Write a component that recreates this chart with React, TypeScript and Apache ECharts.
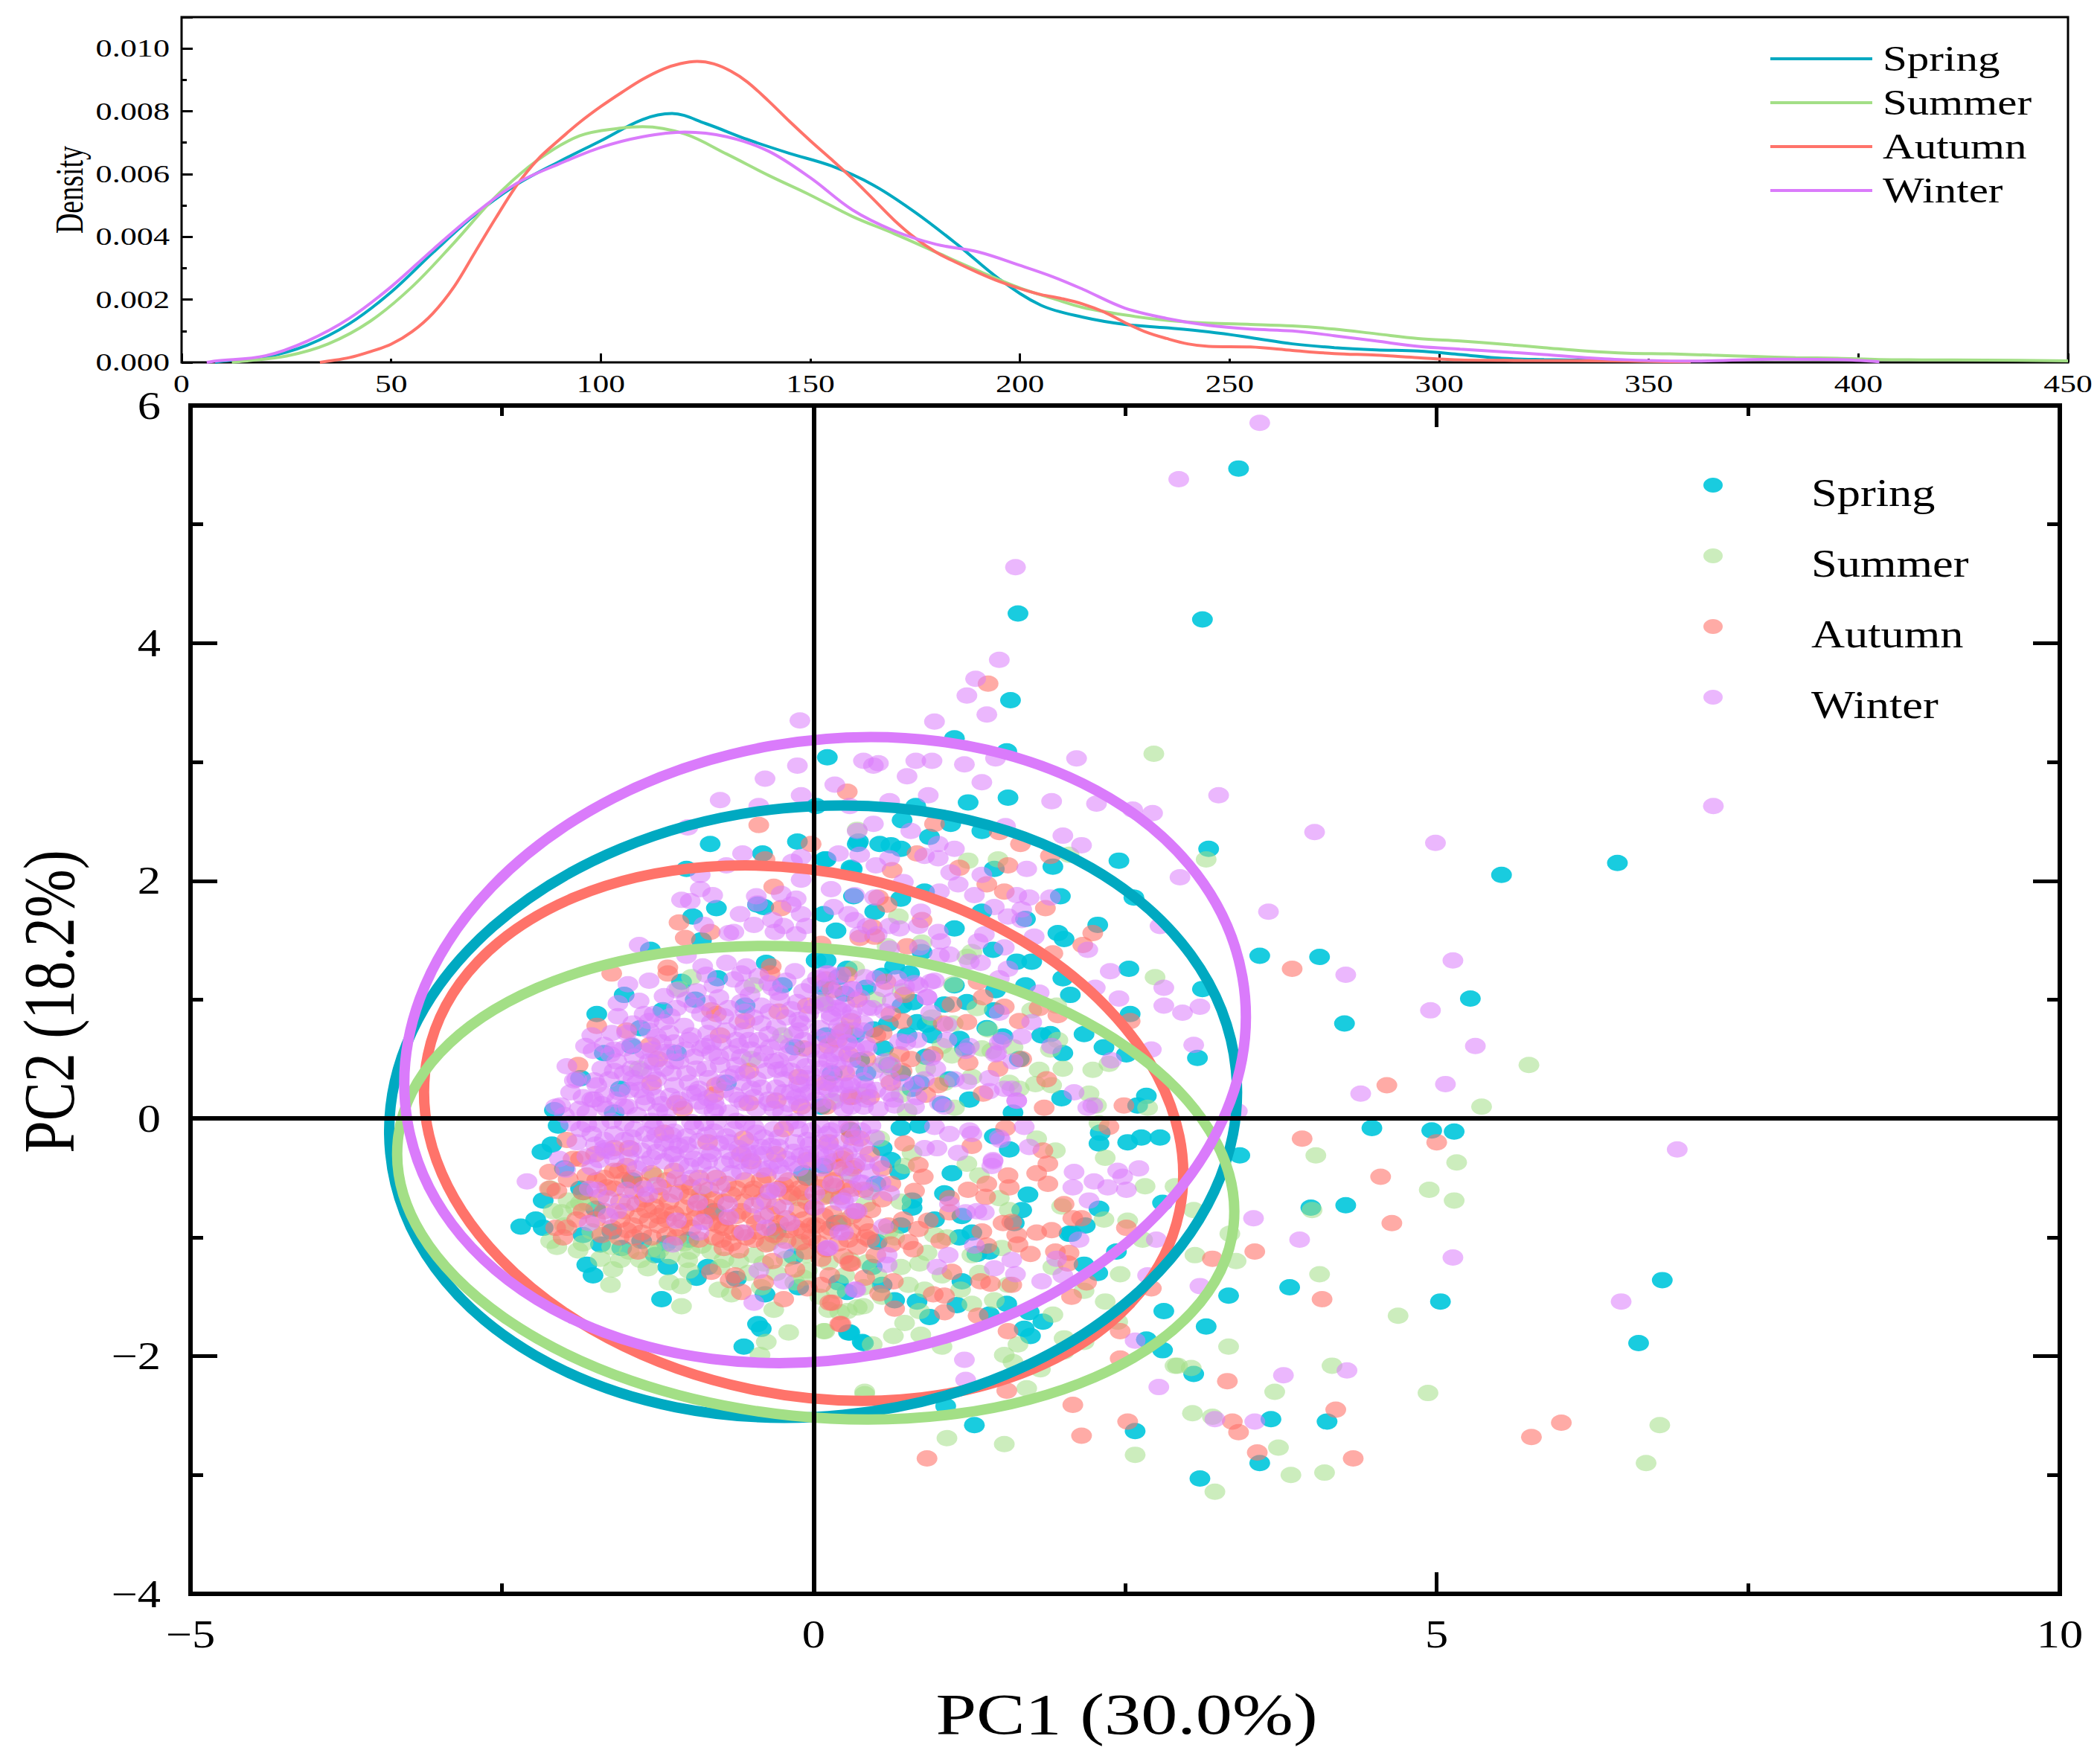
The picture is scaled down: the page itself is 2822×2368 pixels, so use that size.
import { useEffect, useRef } from "react";
import * as echarts from "echarts";

const FONT = "Liberation Serif";

const seasons = ["Spring", "Summer", "Autumn", "Winter"];
const lineColors = ["#00A9C1", "#A3DF86", "#FF736A", "#DA7BFB"];
const dotColors = ["#00C6DC", "#A3DF86", "#FF736A", "#DA7BFB"];
const dotOpacity = [0.9, 0.55, 0.6, 0.55];

const topXTicks = [0, 50, 100, 150, 200, 250, 300, 350, 400, 450];
const topYTicks = ["0.000", "0.002", "0.004", "0.006", "0.008", "0.010"];
const mainXTicks = [-5, 0, 5, 10];
const mainYTicks = [-4, -2, 0, 2, 4, 6];

// density curves, [raw value, density]
const densitySpring = [[8,0],[10,0.00004],[20,0.00017],[30,0.00055],[40,0.00123],[50,0.00224],[60,0.0035],[70,0.0047],[80,0.00567],[90,0.00639],[100,0.00706],[110,0.00774],[117,0.00793],[125,0.00761],[135,0.0071],[145,0.00666],[155,0.00626],[165,0.00565],[175,0.00478],[185,0.00376],[195,0.00266],[205,0.00182],[215,0.00144],[225,0.00121],[235,0.0011],[245,0.00097],[255,0.00079],[265,0.00059],[275,0.00047],[285,0.0004],[295,0.00036],[305,0.00025],[315,0.00013],[325,0.00009],[340,0.00006],[360,0.00001]];
const densitySummer = [[12,0],[15,0.00004],[25,0.0002],[35,0.00059],[45,0.00131],[55,0.00241],[65,0.00381],[75,0.00529],[85,0.00645],[95,0.00722],[105,0.00747],[110,0.00751],[120,0.00728],[130,0.00664],[140,0.00596],[150,0.00533],[160,0.00465],[170,0.0041],[180,0.00351],[190,0.00292],[200,0.00237],[208,0.00203],[215,0.00175],[225,0.00151],[235,0.00134],[245,0.00125],[255,0.00121],[265,0.00116],[275,0.00106],[285,0.00091],[295,0.00076],[305,0.00068],[315,0.00058],[325,0.00047],[335,0.00036],[345,0.00029],[355,0.00027],[365,0.00023],[375,0.00019],[385,0.00015],[395,0.00013],[405,0.00009],[415,0.00008],[430,0.00007],[450,0.00005]];
const densityAutumn = [[33,0],[35,0.00004],[40,0.00015],[45,0.00034],[50,0.00058],[55,0.00098],[60,0.00157],[65,0.00241],[70,0.00351],[75,0.00461],[80,0.00565],[85,0.00647],[90,0.00708],[95,0.00765],[100,0.00815],[105,0.0086],[110,0.00902],[115,0.00935],[119,0.00952],[123,0.00959],[127,0.00951],[131,0.00928],[135,0.00893],[140,0.00833],[145,0.00768],[150,0.00706],[155,0.00647],[160,0.00586],[165,0.0052],[170,0.00453],[175,0.00396],[180,0.00351],[185,0.00317],[190,0.00286],[195,0.00258],[200,0.00235],[205,0.00216],[210,0.00203],[215,0.00186],[220,0.00161],[225,0.00127],[230,0.00097],[235,0.00076],[240,0.00059],[245,0.00051],[255,0.00049],[265,0.00038],[275,0.00028],[285,0.00023],[295,0.00015],[305,0.00008],[320,0.00006],[345,0.00004],[360,0.00001]];
const densityWinter = [[6,0],[8,0.00004],[20,0.00021],[30,0.00068],[40,0.0014],[50,0.00241],[60,0.0036],[70,0.00474],[80,0.00571],[90,0.00632],[100,0.00685],[110,0.00719],[120,0.00734],[130,0.00719],[140,0.00673],[150,0.00588],[160,0.00486],[170,0.00419],[180,0.00376],[190,0.00352],[200,0.00309],[208,0.00272],[215,0.00233],[225,0.00173],[235,0.0014],[245,0.00118],[255,0.00106],[265,0.001],[275,0.00085],[285,0.00068],[295,0.00051],[305,0.00042],[315,0.00034],[325,0.00025],[335,0.00015],[345,0.00008],[360,0.00004],[380,0.0001],[395,0.00009],[405,0.00002]];

// confidence ellipses: centre x, centre y, half width, half height, tilt in degrees
const ellipseSpring = [-0.004, 0.058, 3.41, 2.565, -5.6];
const ellipseSummer = [0.017, -0.54, 3.37, 1.97, 5.8];
const ellipseAutumn = [-0.08, -0.123, 3.08, 2.2, 11.8];
const ellipseWinter = [0.092, 0.576, 3.4, 2.6, -9.9];

const pointsSpring = [
[1.64,4.25],[3.41,5.47],[3.12,4.20],[3.17,2.27],[5.52,2.05],[6.45,2.15],[3.58,1.37],[4.06,1.36],[5.27,1.01],[4.26,.80],[3.12,1.09],[3.08,.51],[4.48,-.08],[4.96,-.10],[5.14,-.11],[3.42,-.31],[3.99,-.75],[4.27,-.73],[3.33,-1.49],[3.82,-1.42],[5.03,-1.54],[6.81,-1.36],[6.62,-1.89],[3.15,-1.75],[3.05,-2.15],[3.67,-2.53],[4.12,-2.55],[3.58,-2.90],[3.10,-3.03],
[.11,3.04],[-.83,2.31],[-.13,2.33],[-.41,2.23],[.09,2.18],[-.78,1.77],[-.97,1.70],[-.45,1.80],[-.40,1.78],[-1.31,1.42],[-1.06,1.15],[-1.52,1.04],[-1.74,.88],[-1.39,.76],[-1.68,.55],[-1.46,.61],[-1.87,.34],[-1.02,2.10],[.02,2.63],[-.90,1.50],[-1.21,.91],[-.77,1.18],[-.38,1.31],[.02,1.33],[.08,1.72],[.31,2.10],[.35,2.31],[-1.55,.25],[-2.08,.07],
[1.58,3.52],[1.13,3.20],[1.55,3.09],[1.24,2.66],[1.56,2.70],[.82,2.63],[.71,2.51],[.36,2.33],[.53,2.31],[.62,2.30],[.70,2.27],[.93,2.37],[1.35,2.42],[1.10,2.48],[1.92,2.12],[2.45,2.17],[1.45,2.10],[.10,2.18],[.30,2.11],[2.57,1.86],[.70,1.85],[.32,1.87],[.89,1.91],[1.35,1.74],[1.98,1.87],[2.28,1.63],[1.96,1.56],[2.01,1.51],[1.13,1.60],[1.44,1.42],[1.70,1.68],[.49,1.74],[.18,1.58],[1.63,1.32],[1.75,1.32],[2.53,1.26],[2.00,1.18],[2.06,1.04],[.77,1.22],[.87,1.40],[2.54,.88],[2.17,.71],[2.33,.60],[2.51,.54],[1.90,.71],[1.83,.70],[2.00,.55],[1.13,1.12],[1.70,1.12],[1.46,1.08],[1.23,.98],[1.45,.91],[1.05,.96],[.71,.95],[.83,.81],[.91,.79],[1.39,.76],[1.52,.69],[1.17,.67],[1.21,.59],[.56,.59],[.37,.49],[1.65,.50],[.20,1.19],[.10,1.33],[.27,1.26],[.79,.25],[.90,.52],[1.09,.33],[1.25,.16],[1.99,.17],[2.67,.19],[1.60,.05],[2.60,.11],[1.03,.12],
[-2.05,-.06],[-2.10,-.22],[-2.18,-.28],[-2.17,-.69],[-2.23,-.85],[-2.35,-.91],[-2.17,-.92],[-1.85,-.98],[-1.71,-1.06],[-1.54,-1.09],[-1.82,-1.23],[-1.77,-1.32],[-1.27,-1.15],[-1.17,-1.25],[-.85,-1.25],[-.94,-1.34],[-1.22,-1.52],[-.45,-1.73],[-.42,-1.77],[-.56,-1.92],[-.39,-1.48],[-.16,-1.16],[-1.75,-.76],[-1.87,-.59],[-1.18,-1.05],[.29,-1.80],[.40,-1.89],[-.08,-.46],[.08,-.40],[-1.46,-.52],[.27,-1.46],[.18,-.88],
[2.29,-.76],[1.67,-.77],[1.72,-.64],[2.18,-.90],[2.07,-.97],[2.29,-.21],[2.52,-.20],[2.63,-.16],[2.78,-.16],[2.30,-.12],[1.57,-.26],[1.45,-.15],[.69,-.45],[.79,-.69],[.79,-.75],[1.19,-1.37],[.83,-1.54],[.65,-1.53],[2.17,-1.23],[2.28,-1.30],[2.43,-1.12],[2.80,-.71],[1.55,-1.56],[1.73,-1.63],[1.84,-1.71],[1.69,-1.77],[1.74,-1.83],[.28,-1.80],[.39,-1.88],[2.81,-1.62],[2.67,-1.86],[2.80,-1.95],[1.06,-2.42],[1.29,-2.58],[2.58,-2.63],[1.41,-1.65],[.93,-1.67],[1.15,-1.57],[.51,-1.04],[1.41,-1.12],[1.31,-1.14],[.47,-1.25],[1.11,-.46],[1.05,-.63],[1.17,-1.0],[.19,-.88],[.55,-.25],[.85,-.06],[2.05,-.97],[.97,-.85],[1.61,-.88],[1.27,-.96],[1.19,-.82],
[.08,1.1],[.25,1.05],[.42,1.1],[.55,1.2],[.65,1.28],[.8,.98],[.1,.7],[.33,.7],[.48,.75],[.6,.8],[.75,.7],[.95,.7],[.15,.38],[.42,.38],[.6,.45],[.7,.38],[.85,.3],[.06,.1],[.3,-.1],[.7,-.08],[.62,-.35],[.5,-.55],[.7,-.9],[.55,-1.4],[.2,-1.38],[-.12,-1.42],[-.62,-1.35],[-1.0,-1.02],[-1.38,-1.03],[-1.62,-.95],[-1.85,-.62],[-2.0,-.42],[-1.6,.05],[-.95,1.0],[-.55,.95],[-1.1,.55],[-.7,.3],[-.25,1.12],[-.15,.6],[-.05,-.5],[-.3,-.95],[-.8,-.78],
];

const pointsSummer = [
[3.15,2.18],[5.74,.45],[5.36,.10],[4.03,-.31],[5.16,-.37],[4.94,-.60],[5.14,-.69],[4.00,-.77],[3.05,-.77],[3.34,-.97],[3.06,-1.15],[3.39,-1.20],[4.06,-1.31],[4.69,-1.66],[3.33,-1.92],[2.92,-2.08],[3.03,-2.10],[4.16,-2.08],[3.70,-2.30],[4.93,-2.31],[3.04,-2.48],[3.20,-2.51],[6.79,-2.58],[3.73,-2.77],[3.83,-3.0],[4.10,-2.98],[6.68,-2.90],[3.22,-3.14],
[-1.08,1.09],[-.98,1.19],[-.48,1.12],[-1.40,.42],[-.50,.50],[.08,.98],[.35,2.43],
[2.73,3.07],[1.48,2.18],[1.24,2.17],[.68,1.70],[2.74,1.19],[1.12,1.13],[1.31,.93],[1.75,.91],[1.95,.95],[2.00,.42],[1.81,.41],[2.24,.41],[2.37,.46],[1.78,.29],[1.91,.28],[1.96,.66],[1.90,.58],[1.35,.59],[1.11,.53],[1.03,.61],[1.43,.57],[1.27,.35],[1.65,.25],[2.21,.21],[2.68,.09],[1.27,1.40],[1.23,1.36],[.71,1.07],[.33,1.26],[.59,1.45],[.87,1.48],[2.05,2.22],[2.27,.11],[1.57,.30],[.75,.06],[1.13,.09],[.08,.97],[.61,.49],[.63,.42],
[-2.11,-1.03],[-2.06,-1.08],[-1.89,-1.11],[-1.71,-1.18],[-1.61,-1.27],[-1.63,-1.40],[-1.55,-1.19],[-1.39,-1.19],[-1.33,-1.26],[-1.16,-1.38],[-1.06,-1.41],[-1.01,-1.19],[-1.06,-1.58],[-.76,-1.44],[-.66,-1.48],[-.32,-1.61],[-.20,-1.80],[.08,-1.79],[-.38,-1.88],[-.43,-1.99],[-2.11,-.59],[-1.97,-.69],[-2.09,-.78],[-2.02,-.79],[-1.91,-.75],[-1.87,-.71],[-1.81,-.71],[-1.04,-1.05],[-.99,-1.12],[-.90,-1.07],[-1.24,-1.11],[-.48,-1.15],[-.36,-1.05],[-.28,-1.0],[-.72,-1.19],[-.42,-1.42],[-.12,-1.05],[-.06,-1.15],[.21,-1.63],[.35,-1.59],[.12,-1.61],[.41,-2.30],[-.08,-1.34],[-1.28,-.48],[-.90,-.63],[.12,-.65],[-.12,-.67],
[2.34,-.33],[1.94,-.27],[2.66,-.57],[2.33,-.85],[2.52,-.86],[1.99,-.74],[1.92,-1.25],[2.64,-1.02],[2.46,-1.31],[2.34,-1.54],[2.17,-1.45],[2.44,-1.71],[1.92,-1.65],[2.01,-1.85],[2.17,-1.88],[1.64,-1.90],[1.53,-1.99],[1.60,-2.05],[2.01,-1.96],[1.82,-2.11],[1.71,-2.27],[2.90,-2.08],[1.07,-2.69],[1.53,-2.74],[2.58,-2.83],[.41,-2.32],[.09,-1.79],[.27,-1.62],[.40,-1.58],[.64,-1.83],[.86,-1.82],[.73,-1.72],[.47,-1.90],[1.03,-1.92],[1.33,-1.30],[1.56,-1.40],[1.51,-1.09],[1.45,-1.53],[1.27,-1.56],[1.18,-1.44],[.85,-1.62],[.89,-1.44],[.76,-1.40],[1.33,-.48],[1.49,-.67],[1.03,-1.32],[.65,-1.0],[.97,-.98],[1.27,-1.15],[1.57,-.77],[2.29,-.04],[1.79,-.17],[1.23,-.38],[.73,-.40],[.53,-.17],[.79,-.29],[.51,-1.32],[.29,-1.19],[.12,-1.21],[.43,-1.21],[2.90,-.57],[.14,-.65],[.24,-.86],[1.07,-1.0],[.91,-1.13],
[-2.0,-.9],[-1.85,-1.05],[-1.78,-.95],[-1.62,-1.08],[-1.48,-1.12],[-1.3,-1.1],[-1.15,-1.16],[-1.1,-1.05],[-1.0,-1.28],[-.82,-1.12],[-.75,-1.25],[-.6,-1.2],[-.52,-1.3],[-.4,-1.22],[-.3,-1.3],[-.22,-1.18],[-.15,-1.38],[-.05,-1.28],[.05,-1.5],[.18,-1.45],[.25,-1.32],[.4,-1.42],[.55,-1.5],[.7,-1.25],[.6,-.95],[.42,-.72],[.28,-.46],[.45,-.6],[.7,-.7],[.85,-1.22],
[.15,.15],[.38,.2],[.55,.45],[.9,.42],[1.05,.3],[.7,.2],[.25,.75],[-.25,.7],[.5,1.0],[.95,.85],[1.12,.8],[1.4,.75],[1.6,.6],
];

const pointsAutumn = [
[3.84,1.26],[4.60,.28],[3.92,-.17],[5.0,-.20],[4.55,-.49],[4.64,-.88],[3.54,-1.12],[3.20,-1.18],[4.08,-1.52],[3.32,-2.21],[4.19,-2.45],[3.36,-2.55],[3.41,-2.64],[6.0,-2.56],[5.76,-2.68],[3.56,-2.81],[4.33,-2.86],
[-.44,2.47],[-.02,2.31],[.27,2.75],[-.39,2.18],[-.32,1.95],[-.26,1.77],[-1.08,1.65],[-.83,1.57],[-1.03,1.52],[-1.62,1.22],[-1.17,1.27],[-1.17,1.22],[-1.74,.78],[-1.50,.74],[-1.31,.62],[-1.89,.45],[-.82,.91],[-.34,1.28],[-1.10,.13],[-.08,.59],[.23,.73],[-.52,.13],[-.78,.28],[-.12,.35],[.31,.18],
[1.40,3.66],[.97,2.48],[1.49,2.41],[1.66,2.31],[1.90,2.21],[.63,2.09],[.83,2.23],[1.17,2.11],[1.56,2.13],[1.39,1.97],[1.53,1.91],[.52,1.86],[.59,1.80],[1.86,1.77],[.87,1.67],[2.24,1.56],[2.16,1.46],[1.92,1.39],[.47,1.61],[.37,1.52],[.75,1.45],[.58,1.15],[1.36,1.02],[1.11,.96],[1.53,.94],[1.65,.82],[2.54,.82],[1.32,1.15],[.71,.82],[1.04,.80],[1.23,.81],[1.81,.93],[1.96,.87],[1.67,.50],[1.24,.47],[1.48,.42],[1.87,.33],[.96,.54],[.69,.54],[.71,.40],[.55,.72],[.19,.66],[.12,.61],[1.0,.28],[1.36,.21],[2.49,.11],[1.85,.09],[.28,.54],[.10,.30],[.29,.18],[.45,.18],[.49,1.53],[.06,1.47],[.10,1.17],[.27,1.21],[.73,1.04],
[-1.98,-.18],[-2.12,-.45],[-2.12,-.59],[-2.06,-.61],[-2.07,-.92],[-1.98,-.92],[-2.01,-1.0],[-1.85,-.78],[-1.41,-1.12],[-.82,-1.29],[-.63,-1.32],[-.67,-1.36],[-.58,-1.46],[-.40,-1.38],[-.24,-1.52],[-.33,-1.20],[-.15,-1.27],[-.05,-1.43],[.22,-1.73],[.13,-1.55],[.06,-1.40],[.13,-1.32],[.29,-1.22],[-.72,-1.09],[-.60,-1.11],[-.48,-1.02],
[-1.97,-.51],[-1.93,-.34],[-1.56,-.44],[-1.50,-.40],[-1.68,-.50],[-1.74,-.52],[-1.60,-.59],[-1.44,-.61],[-1.34,-.77],[-1.24,-.82],[-1.12,-.80],[-1.40,-.82],[-1.62,-.92],[-1.50,-.94],[-1.38,-.96],[-1.24,-.90],[-1.18,-.52],[-1.04,-.54],[-.92,-.50],[-.78,-.50],[-.62,-.59],[-.48,-.59],[-.28,-.59],[-.12,-.59],[-.92,-.69],[-.78,-.79],[-1.04,-.75],[-1.24,-.65],[-.72,-.92],[-.64,-.96],[-.54,-1.0],[-.62,-.82],[-.28,-.88],[-.14,-.92],[-.02,-.90],[-.02,-1.0],[.04,-1.05],[.02,-.90],[.16,-.36],[.23,-.34],[.29,-.09],[.19,-.42],[.31,-.42],[.08,-.52],[.17,-.57],[-.50,-.36],[-.56,-.17],[-.24,-.09],[-1.60,-.25],[-1.48,-.25],[-1.87,-.34],[-.38,-.48],[-.18,-.63],[.0,-.75],[.15,-.80],[.31,-.82],[-.12,-.77],
[2.01,-.72],[2.08,-.84],[2.15,-.84],[2.51,-.92],[1.91,-.94],[1.79,-.96],[1.94,-1.12],[2.05,-1.13],[2.04,-1.22],[1.74,-1.14],[1.64,-1.06],[1.63,-.98],[1.52,-.88],[1.59,-.87],[1.56,-.48],[1.79,-.46],[1.88,-.55],[1.57,-.58],[1.24,-.60],[1.39,-.55],[1.38,-.66],[1.09,-.67],[1.09,-.79],[1.27,-.23],[1.84,-.27],[1.88,-.38],[1.54,-.08],[.84,-.39],[.88,-.49],[.81,-.61],[1.35,-.95],[1.39,-1.07],[1.34,-1.37],[1.42,-1.39],[1.59,-1.40],[1.11,-1.29],[.84,-.93],[.76,-1.04],[1.02,-1.03],[.72,-.85],[.92,-.86],[.64,-1.37],[.41,-1.34],[.30,-1.22],[.53,-1.47],[.65,-1.60],[.96,-1.48],[1.05,-1.49],[1.05,-1.63],[1.32,-1.66],[2.07,-1.50],[2.71,-1.43],[2.46,-1.79],[1.56,-1.79],[2.46,-2.02],[1.55,-2.29],[2.08,-2.41],[2.52,-2.55],[2.15,-2.67],[.91,-2.86],[.21,-1.73],[.15,-1.55],[2.19,-1.38],[.34,-.78],[.46,-.77],[.33,-.40],[.24,-.31],[.16,-.52],[.31,-.59],[.73,-.21],[.45,-1.02],[.28,-1.02],[.14,-.92],[.37,-.17],[2.37,-.07],
[-1.75,-.3],[-1.6,-.44],[-1.45,-.5],[-1.3,-.46],[-1.12,-.44],[-.98,-.58],[-.84,-.6],[-.7,-.55],[-.55,-.52],[-.42,-.52],[-.2,-.52],[-.05,-.5],
[-1.85,-.62],[-1.72,-.66],[-1.55,-.7],[-1.42,-.72],[-1.28,-.74],[-1.16,-.7],[-1.0,-.66],[-.86,-.74],[-.72,-.7],[-.56,-.7],[-.42,-.7],[-.3,-.74],[-.2,-.66],[-.05,-.7],[.08,-.66],[.22,-.66],
[-1.9,-.85],[-1.75,-.85],[-1.55,-.85],[-1.45,-.9],[-1.32,-.86],[-1.18,-.85],[-1.05,-.86],[-.95,-.84],[-.82,-.88],[-.7,-.84],[-.5,-.82],[-.35,-.8],[-.22,-.84],[-.08,-.85],[.08,-.82],[.22,-.88],[.4,-.88],
[-1.7,-.98],[-1.3,-1.0],[-1.18,-.98],[-.8,-1.0],[-.66,-1.05],[-.45,-.95],[-.32,-.98],[-.1,-1.04],[.1,-1.1],[.2,-1.05],[.35,-1.08],[.5,-1.15],
[-1.2,-.12],[-.85,-.2],[-.58,-.3],[-.3,-.3],[-.05,-.35],[.12,-.2],[.3,-.16],[.45,-.3],[.55,-.42],[.62,-.55],[.55,-.68],[.6,-.9],
[-1.3,.3],[-1.05,.08],[-.8,.2],[-.52,.4],[-.3,.15],[-.1,.1],[.1,.1],[.25,.38],[.42,.5],[.5,.7],[.3,.82],[.62,.3],[.78,.5],[.9,.2],
[-.75,.7],[-.55,.82],[-.28,.9],[-.05,.95],[.35,1.0],[.62,.88],[.15,1.08],[-.35,1.22],[-.78,.88],[-1.25,.5],
[-1.82,-.48],[-1.66,-.58],[-1.52,-.52],[-1.38,-.56],[-1.22,-.58],[-1.08,-.62],[-.94,-.76],[-.8,-.68],[-.66,-.64],[-.5,-.62],[-.36,-.62],[-.24,-.56],[-.08,-.62],[.05,-.58],[.26,-.58],[.4,-.6],
[-1.68,-.78],[-1.52,-.78],[-1.36,-.68],[-1.2,-.78],[-1.08,-.92],[-.98,-.92],[-.86,-.82],[-.76,-.9],[-.58,-.78],[-.46,-.88],[-.34,-.92],[-.2,-.94],[-.08,-.95],[.12,-.95],[.3,-.95],[.44,-.95],
[-1.56,-1.0],[-1.44,-1.0],[-1.1,-1.0],[-.92,-1.02],[-.74,-1.02],[-.58,-.96],[-.38,-1.06],[-.22,-1.03],[-.06,-1.12],[.06,-1.18],[.24,-1.16],[.42,-1.0],[.62,-1.06],[.8,-1.1],
];

const pointsWinter = [
[3.58,5.855],[2.93,5.38],[1.62,4.64],[1.49,3.86],[3.25,2.72],[4.02,2.41],[4.99,2.32],[7.22,2.63],[2.94,2.03],[3.65,1.74],[5.13,1.33],[4.95,.91],[5.31,.61],[4.27,1.21],[5.07,.29],[4.39,.21],[2.96,.89],[3.10,.94],[3.05,.62],[3.40,.06],[6.93,-.26],[3.53,-.84],[3.90,-1.02],[5.13,-1.17],[6.48,-1.54],[3.10,-1.41],[3.77,-2.16],[4.28,-2.12],[3.22,-2.53],[3.54,-2.55],
[-.11,3.35],[-.13,2.97],[-.39,2.86],[-.75,2.68],[-.10,2.72],[-.44,2.63],[-1.01,2.45],[-.57,2.23],[-.10,2.20],[-.17,2.16],[-.70,2.13],[-.91,2.05],[-.91,1.93],[-.81,1.88],[-.99,1.83],[-1.06,1.84],[-.10,2.01],[-.46,1.87],[-.45,1.81],[-.26,1.89],[-.59,1.72],[-.88,1.63],[-.48,1.63],[-.64,1.57],[-.68,1.56],[-1.40,1.46],[-1.02,1.37],[-.54,1.28],[-.89,1.28],[-1.49,1.13],[-1.32,1.16],[-1.57,.97],[-1.40,.99],[-1.57,.86],[-1.36,.88],[-1.78,.70],[-1.77,.57],[-1.98,.44],[-1.90,.33],[-.14,1.85],[-.18,1.80],[-.33,1.67],[-.24,1.62],[-.06,1.62],[-.14,1.55],[-.31,1.57],[-.10,1.72],
[-.70,1.31],[-.64,1.17],[-.36,1.14],[-.22,1.16],[.10,1.22],[.31,1.09],[-.94,1.07],[-.76,1.02],[-.51,1.04],[-.33,1.10],[-.08,1.07],[-.68,.93],[-.96,.95],[-1.10,.93],[-1.28,.88],[-.48,.85],[-.60,.81],[-.82,.81],[-1.04,.78],[-1.20,.81],[-.22,.85],[-.04,.88],[.14,.88],[.31,.90],[-.16,.71],[-.36,.71],[-.52,.66],[-.74,.64],[-.90,.59],[-1.12,.64],[-1.26,.69],[-1.52,.59],[-1.36,.57],[-.08,.66],[.27,.64],[.12,.66],[-1.12,.48],[-1.28,.47],[-1.46,.42],[-.94,.42],[-.62,.45],[-.44,.49],[-.28,.49],[-.12,.49],[.12,.49],[.35,.42],[-1.26,.33],[-1.42,.30],[-1.64,.33],[-1.74,.28],[-.92,.25],[-.68,.35],[-.46,.33],[-.24,.33],[-.10,.28],[.14,.35],[.30,.30],[-1.85,.18],[-2.03,.11],[-1.78,.16],[-1.58,.16],[-1.36,.18],[-1.26,.18],[-.98,.21],[-.78,.09],[-.56,.13],[-.36,.13],[-.14,.18],[.20,.21],
[-2.07,.10],[-1.92,.32],[-1.76,.32],[-1.56,.22],[-1.35,.13],[-1.15,.19],[-.94,.22],[-.63,.38],[-.29,.41],[-.12,.29],[-1.32,.48],[-1.08,.48],[-.87,.61],[-.60,.61],[-.32,.48],[-.19,.61],[-.12,.83],[-1.63,.54],[-1.83,.61],[-1.76,.16],[-1.49,.10],[-1.18,.06],[-.80,.06],[-.60,.16],[-.36,.16],[-.12,.13],[.16,.29],[.40,.32],[.16,.54],[.33,.58],[.57,.48],[.81,.29],[.64,.16],[.40,.10],[.81,.10],[.22,.74],[.40,.74],[.19,.93],[.43,.93],[.67,1.18],[.50,1.18],[.22,1.21],[.84,1.12],[.94,1.15],[.91,1.02],[.74,.64],[.94,.51],[1.05,.10],[1.22,.57],[1.49,.64],[1.46,.54],[1.60,.48],[1.41,.23],[1.53,.25],[1.63,.15],[1.25,-.10],[1.49,-.16],[1.44,-.35],
[1.30,3.70],[1.23,3.56],[1.39,3.40],[.97,3.34],[.40,3.01],[.52,2.99],[.48,2.97],[.82,3.01],[.95,3.01],[1.21,2.98],[1.46,3.03],[2.11,3.03],[.75,2.88],[1.35,2.83],[.17,2.81],[.92,2.72],[.61,2.67],[1.91,2.67],[2.27,2.65],[2.72,2.57],[2.56,2.60],[.29,2.63],[.48,2.48],[.78,2.42],[1.54,2.46],[2.00,2.38],[2.15,2.30],[.35,2.42],[1.0,2.31],[1.13,2.27],[.20,2.23],[.37,2.22],[.50,2.13],[.61,2.19],[1.0,2.19],[.89,2.21],[1.10,2.07],[1.71,2.10],[1.35,2.05],[.72,1.99],[1.16,1.97],[1.01,1.91],[1.29,1.88],[.14,1.93],[.33,1.88],[.49,1.86],[1.63,1.88],[1.73,1.86],[1.90,1.86],[1.45,1.78],[1.67,1.76],[1.56,1.70],[1.67,1.67],[.16,1.78],[.28,1.72],[.86,1.74],[.84,1.62],[2.78,1.62],[1.37,1.55],[1.77,1.53],[1.32,1.49],[1.53,1.44],[2.20,1.42],[1.0,1.57],[1.02,1.49],[1.09,1.38],[1.01,1.37],[1.25,1.32],[1.34,1.31],[1.56,1.26],[2.38,1.24],[2.26,1.10],[2.81,1.10],[2.45,1.01],[2.81,.95],[1.49,1.18],[1.81,1.06],[.33,1.67],[.43,1.62],[.61,1.62],[.69,1.60],[.85,1.44],[.37,1.55],[.51,1.55],[.61,1.43],[.12,1.22],[.41,1.19],[.97,1.16],[.81,1.14],[.73,1.11],[.31,1.09],[.56,1.09],[.91,1.02],[1.49,.89],[1.75,.81],[1.07,.79],[.63,.99],[.37,1.02],[.47,.93],[.22,.91],[.14,.85],[.30,.85],[.57,.90],[.94,.89],[1.67,.69],[1.51,.66],[1.91,.61],[2.71,.58],[2.39,.49],[1.25,.61],[.83,.66],[.69,.65],[1.07,.66],[.27,.64],[.43,.59],[1.47,.55],[.98,.42],[1.13,.33],[1.23,.31],[1.41,.34],[1.59,.25],[.89,.33],[.61,.34],[.13,.40],[.29,.28],[.43,.23],[.61,.21],[2.09,.22],[1.63,.15],[2.24,.11],[2.20,.09],[.83,.18],[.65,.11],[1.01,.13],
[-2.30,-.53],[-.48,-1.55],[-2.04,-.34],[-1.99,-.43],[-1.80,-.59],[-1.82,-.32],[-1.78,-.41],[-1.60,-.34],[-1.67,-.27],[-1.65,-.67],[-1.65,-.82],[-1.80,-.88],[-1.58,-.78],[-1.48,-.71],[-1.36,-.59],[-1.33,-.64],[-1.13,-.64],[-1.10,-.86],[-.89,-.57],[-.93,-.71],[-.89,-.87],[-.92,-.96],[-.69,-.72],[-.68,-.83],[-.75,-.57],[-.58,-.45],[-.42,-.43],[-.56,-.96],[-.48,-.73],[-.35,-.61],[-.38,-.69],[-.40,-.82],[-.38,-.92],[-.19,-.88],[-.24,-.75],[-.24,-1.11],[-.44,-1.28],[-.24,-1.37],[-1.13,-1.06],[.01,-.63],[.01,-.75],[.11,-1.09],[.21,-.96],[.21,-.71],[.33,-.78],[.34,-1.44],[.37,-.54],
[-1.87,-.09],[-1.78,-.13],[-1.60,-.13],[-1.44,-.09],[-1.28,-.07],[-1.12,-.11],[-.96,-.07],[-.80,-.11],[-.64,-.09],[-.48,-.07],[-.32,-.09],[-.12,-.09],[.11,-.13],[-1.68,-.25],[-1.38,-.27],[-1.36,-.38],[-1.20,-.21],[-1.08,-.23],[-1.20,-.36],[-1.08,-.38],[-.92,-.19],[-.76,-.21],[-.90,-.39],[-.72,-.38],[-.60,-.25],[-.46,-.29],[-.34,-.23],[-.22,-.34],[-.28,-.40],[-.10,-.31],[.04,-.29],[.12,-.23],[.27,-.29],[-.36,-.42],
[2.09,-.45],[2.44,-.44],[2.61,-.42],[2.08,-.58],[2.25,-.53],[2.36,-.58],[2.48,-.49],[2.51,-.60],[2.21,-.69],[1.44,-.36],[1.43,-.40],[.99,-.25],[.89,-.25],[1.16,-.29],[.49,-.16],[1.09,-.13],[1.27,-.13],[1.50,-.18],[1.73,-.24],[.97,-.07],[1.69,-.07],[2.13,-1.02],[1.95,-1.18],[2.00,-1.32],[1.83,-1.37],[1.59,-1.19],[1.62,-1.31],[1.45,-1.26],[1.31,-.78],[1.37,-.79],[1.22,-.79],[1.29,-1.07],[1.09,-.72],[1.08,-1.15],[.99,-1.25],[.59,-1.15],[.59,-1.23],[.56,-.91],[.61,-.63],[.54,-.54],[.39,-.54],[.35,-.78],[.24,-.69],[.41,-.37],[.53,-.38],[.24,-.96],[.12,-1.09],[.33,-1.44],[1.21,-2.03],[1.22,-2.20],[2.77,-2.26],[2.58,-1.87],[2.75,-1.02],[2.68,-1.32],
[-.86,1.21],[-.58,1.22],[-.44,1.2],[-.15,1.24],[.03,1.18],[.2,1.1],
[-1.2,1.03],[-1.02,1.0],[-.86,.97],[-.58,.98],[-.42,.95],[-.27,1.0],[-.13,.98],[.05,1.0],[.18,1.02],
[-1.45,.8],[-1.32,.74],[-1.16,.72],[-.98,.7],[-.85,.72],[-.7,.74],[-.56,.74],[-.42,.8],[-.3,.77],[-.1,.8],[.05,.76],[.2,.78],[.4,.8],
[-1.68,.62],[-1.58,.48],[-1.44,.52],[-1.2,.56],[-1.03,.58],[-.82,.55],[-.66,.55],[-.5,.58],[-.35,.6],[-.2,.55],[-.03,.58],[.08,.57],[.22,.55],[.42,.62],
[-1.7,.42],[-1.52,.38],[-1.38,.4],[-1.2,.42],[-1.02,.38],[-.84,.34],[-.75,.45],[-.55,.38],[-.38,.4],[-.18,.4],[-.03,.38],[.06,.42],[.24,.42],[.48,.4],[.62,.45],
[-1.95,.22],[-1.68,.2],[-1.48,.24],[-1.3,.26],[-1.12,.28],[-.85,.17],[-.72,.24],[-.5,.25],[-.3,.26],[-.18,.22],[-.03,.22],[.08,.26],[.3,.2],[.5,.24],[.72,.3],
[-2.0,.03],[-1.82,.05],[-1.66,.08],[-1.42,.03],[-1.25,.06],[-1.05,.1],[-.88,.1],[-.68,.05],[-.46,.08],[-.25,.05],[-.05,.05],[.06,.12],[.24,.08],[.52,.08],
[-1.95,-.04],[-1.72,-.05],[-1.52,-.04],[-1.35,-.13],[-1.18,-.03],[-1.02,-.15],[-.88,-.04],[-.7,-.15],[-.55,-.04],[-.4,-.16],[-.2,-.04],[-.05,-.18],[.05,-.06],[.2,-.06],[.33,-.15],[.46,-.06],
[-1.9,-.2],[-1.75,-.22],[-1.52,-.18],[-1.3,-.2],[-1.14,-.3],[-1.0,-.28],[-.84,-.28],[-.68,-.28],[-.52,-.2],[-.4,-.3],[-.15,-.2],[-.03,-.22],[.1,-.32],[.2,-.2],[.4,-.24],
[-1.72,-.35],[-1.48,-.33],[-1.3,-.33],[-1.0,-.4],[-.85,-.36],[-.6,-.36],[-.5,-.4],[-.25,-.46],[-.12,-.42],[.06,-.42],[.15,-.55],[.3,-.48],[.45,-.45],
[-.98,-.5],[-.82,-.47],[-.66,-.46],[-1.74,-.6],[-1.5,-.6],[-1.26,-.56],[-1.1,-.5],[-.3,-.6],[.45,-.62],[.28,-.65],
[-.8,1.12],[-.55,1.1],[-.28,1.06],[-.02,1.12],[.12,1.12],[-1.1,1.08],[-.9,.88],[-.72,.86],[-.55,.9],[-.35,.9],[-.18,.92],[.0,.94],[.1,.96],[.25,.96],[-1.15,.86],[-1.32,.82],[-1.5,.72],[-1.62,.72],[-1.22,.64],[-1.0,.66],[-.82,.64],[-.62,.66],[-.44,.66],[-.28,.64],[-.12,.74],[.03,.68],[.18,.68],[.32,.74],
[-1.6,.58],[-1.46,.62],[-1.3,.58],[-1.14,.56],[-.96,.52],[-.76,.52],[-.58,.52],[-.4,.55],[-.24,.42],[-.06,.44],[.03,.5],[.18,.46],[.3,.5],[-1.6,.4],[-1.45,.34],[-1.3,.38],[-1.14,.38],[-1.0,.3],[-.86,.42],[-.74,.3],[-.58,.3],[-.42,.26],[-.24,.22],[-.06,.34],[.02,.3],[.12,.24],[.24,.28],[.42,.26],
[-1.88,.08],[-1.7,.12],[-1.52,.1],[-1.4,.24],[-1.22,.12],[-1.08,.16],[-.92,.14],[-.8,.14],[-.64,.2],[-.48,.18],[-.32,.08],[-.2,.12],[-.08,.2],[.02,.16],[.16,.14],[.3,.1],[.42,.16],
[-1.82,-.05],[-1.62,-.02],[-1.46,-.16],[-1.3,-.02],[-1.14,-.14],[-.98,-.03],[-.78,-.03],[-.62,-.02],[-.46,-.12],[-.28,-.16],[-.14,-.02],[-.02,-.1],[.14,-.1],[.28,-.04],[.38,-.1],
[-1.68,-.18],[-1.46,-.26],[-1.26,-.14],[-1.14,-.2],[-1.02,-.22],[-.86,-.14],[-.68,-.2],[-.54,-.28],[-.42,-.24],[-.28,-.24],[-.16,-.28],[-.04,-.3],[.06,-.2],[.16,-.28],[.32,-.22],
[-1.62,-.28],[-1.42,-.42],[-1.26,-.28],[-1.12,-.3],[-.96,-.34],[-.82,-.3],[-.66,-.35],[-.52,-.34],[-.32,-.36],[-.16,-.38],[-.02,-.36],[.1,-.38],[.24,-.42],[.34,-.36],
];

const densities = [densitySpring, densitySummer, densityAutumn, densityWinter];
const points = [pointsSpring, pointsSummer, pointsAutumn, pointsWinter];
// red goes under teal, teal under green, purple on top
const ellipseOrder: [number[], number][] = [
  [ellipseAutumn, 2],
  [ellipseSpring, 0],
  [ellipseSummer, 1],
  [ellipseWinter, 3],
];

const TOP_GRID = { left: 244, top: 23, width: 2535, height: 464 };
const MAIN_GRID = { left: 256, top: 545, width: 2512, height: 1597 };

const minus = (v: number) => String(v).replace("-", "\u2212");

// the picture is stretched sideways, so texts get a scale
const label = (
  text: string,
  x: number,
  y: number,
  fontSize: number,
  align: string,
  extra: object = { scaleX: 1.25 },
) => ({
  type: "text",
  x,
  y,
  ...extra,
  style: {
    text,
    fontFamily: FONT,
    fontSize,
    fill: "#000",
    align,
    verticalAlign: "middle",
  },
});

const hiddenAxis = { axisLine: { show: false }, axisLabel: { show: false }, splitLine: { show: false } };

const ticks = (length: number, width: number) => ({
  axisTick: { show: true, inside: true, length, lineStyle: { color: "#000", width } },
});

const mainTicks = (length: number, minor: number) => ({
  axisLine: { show: false, onZero: false },
  axisLabel: { show: false },
  splitLine: { show: false },
  axisTick: { show: true, inside: true, length, lineStyle: { color: "#000", width: 5 } },
  minorTick: { show: true, splitNumber: 2, length: minor, lineStyle: { color: "#000", width: 5 } },
});

export default function App() {
  const ref = useRef<HTMLDivElement | null>(null);

  useEffect(() => {
    if (!ref.current) return;
    document.body.style.margin = "0";
    const chart = echarts.init(ref.current, undefined, { renderer: "svg" });

    chart.setOption({
      animation: false,
      backgroundColor: "#fff",
      grid: [
        { ...TOP_GRID, show: true, borderColor: "#000", borderWidth: 3 },
        { ...TOP_GRID },
        { ...MAIN_GRID, show: true, borderColor: "#000", borderWidth: 6 },
      ],
      xAxis: [
        { gridIndex: 0, type: "value", min: 0, max: 450, interval: 50, ...hiddenAxis, ...ticks(5, 3) },
        { gridIndex: 1, type: "value", min: 0, max: 450, interval: 100, ...hiddenAxis, ...ticks(12, 3) },
        { gridIndex: 2, type: "value", min: -5, max: 10, interval: 5, position: "bottom", ...mainTicks(29, 14) },
        { gridIndex: 2, type: "value", min: -5, max: 10, interval: 5, position: "top", ...mainTicks(29, 14) },
      ],
      yAxis: [
        { gridIndex: 0, type: "value", min: 0, max: 0.011, interval: 0.001, ...hiddenAxis, ...ticks(7, 3) },
        { gridIndex: 1, type: "value", min: 0, max: 0.011, interval: 0.002, ...hiddenAxis, ...ticks(15, 3) },
        { gridIndex: 2, type: "value", min: -4, max: 6, interval: 2, position: "left", ...mainTicks(36, 17) },
        { gridIndex: 2, type: "value", min: -4, max: 6, interval: 2, position: "right", ...mainTicks(36, 17) },
      ],
      series: [
        ...seasons.map((name, i) => ({
          name,
          type: "line",
          xAxisIndex: 0,
          yAxisIndex: 0,
          data: densities[i],
          smooth: 0.35,
          showSymbol: false,
          symbol: "none",
          z: 3,
          lineStyle: { color: lineColors[i], width: 4 },
        })),
        ...seasons.map((name, i) => ({
          name,
          type: "scatter",
          xAxisIndex: 2,
          yAxisIndex: 2,
          data: points[i],
          symbol: "circle",
          symbolSize: [28, 22],
          z: 3 + i * 0.01,
          itemStyle: { color: dotColors[i], opacity: dotOpacity[i] },
        })),
        ...ellipseOrder.map(([values, c], i) => ({
          name: seasons[c],
          type: "custom",
          xAxisIndex: 2,
          yAxisIndex: 2,
          z: 4 + i * 0.01,
          clip: false,
          data: [values],
          renderItem: (_: unknown, api: any) => {
            const [cx, cy] = api.coord([api.value(0), api.value(1)]);
            const [rx, ry] = api.size([api.value(2), api.value(3)]);
            return {
              type: "ellipse",
              x: cx,
              y: cy,
              rotation: (-api.value(4) * Math.PI) / 180,
              shape: { cx: 0, cy: 0, rx, ry },
              style: { fill: "none", stroke: lineColors[c], lineWidth: 14 },
            };
          },
        })),
        {
          type: "line",
          xAxisIndex: 2,
          yAxisIndex: 2,
          data: [],
          z: 6,
          markLine: {
            silent: true,
            symbol: "none",
            label: { show: false },
            lineStyle: { color: "#000", width: 6, type: "solid" },
            data: [{ xAxis: 0 }, { yAxis: 0 }],
          },
        },
      ],
    });

    const px = (axis: "xAxisIndex" | "yAxisIndex", index: number, v: number) =>
      chart.convertToPixel({ [axis]: index }, v) as number;

    const legendLines = seasons.flatMap((name, i) => {
      const y = 79 + i * 59;
      return [
        {
          type: "line",
          shape: { x1: 2379, y1: y, x2: 2516, y2: y },
          style: { stroke: lineColors[i], lineWidth: 4 },
        },
        label(name, 2530, y, 48, "left", { scaleX: 1.23 }),
      ];
    });

    const legendDots = seasons.flatMap((name, i) => {
      const y = 652 + i * 95;
      return [
        {
          type: "ellipse",
          shape: { cx: 2302, cy: y, rx: 13, ry: 10 },
          style: { fill: dotColors[i], opacity: dotOpacity[i] },
        },
        label(name, 2434, y + 10, 52, "left", { scaleX: 1.2 }),
      ];
    });

    chart.setOption({
      graphic: [
        ...topXTicks.map((v) => label(String(v), px("xAxisIndex", 0, v), 515, 34, "center", { scaleX: 1.28 })),
        ...topYTicks.map((t) => label(t, 228, px("yAxisIndex", 0, Number(t)), 34, "right", { scaleX: 1.3 })),
        ...mainXTicks.map((v) => label(minus(v), px("xAxisIndex", 2, v), 2196, 52, "center", { scaleX: 1.2 })),
        ...mainYTicks.map((v) => label(minus(v), 216, px("yAxisIndex", 2, v), 52, "right", { scaleX: 1.2 })),
        label("Density", 93, 255, 38, "center", { rotation: Math.PI / 2, scaleY: 1.4 }),
        label("PC2 (18.2%)", 66, 1346, 78, "center", { rotation: Math.PI / 2, scaleY: 1.25 }),
        label("PC1 (30.0%)", 1514, 2304, 78, "center", { scaleX: 1.26 }),
        ...legendLines,
        ...legendDots,
      ],
    });

    return () => chart.dispose();
  }, []);

  return <div ref={ref} style={{ position: "absolute", left: 0, top: 0, width: 2822, height: 2368 }} />;
}
